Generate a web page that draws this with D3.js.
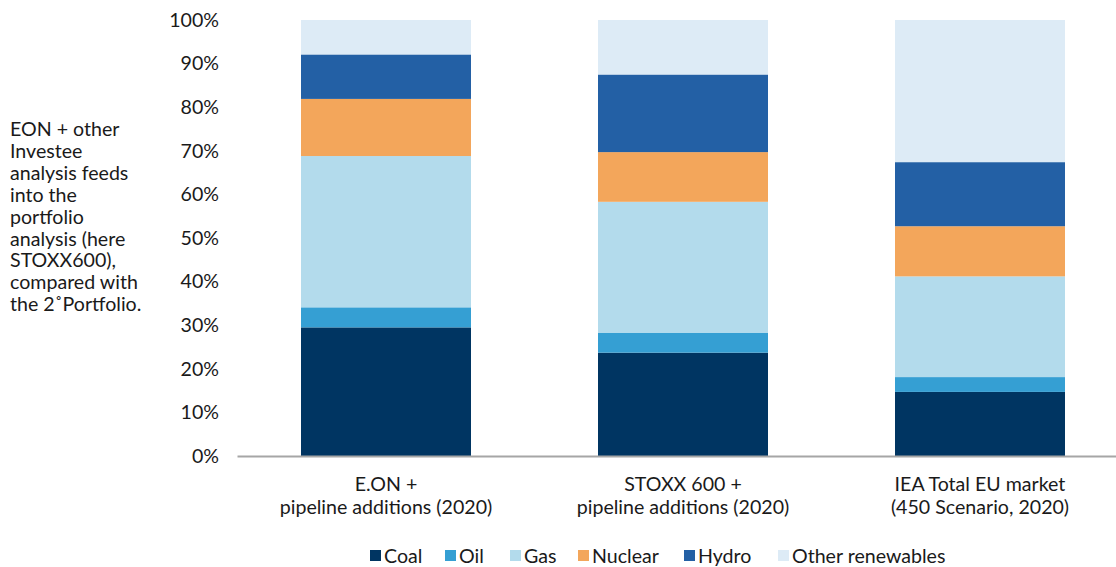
<!DOCTYPE html>
<html><head><meta charset="utf-8">
<script src="https://cdn.jsdelivr.net/npm/d3@7"></script>
<style>
html,body{margin:0;padding:0;background:#fff;}
svg{display:block;font-family:Lato, "Open Sans", sans-serif;}
</style></head>
<body><svg id="chart" width="1116" height="567"></svg>
<script>
const categories = [["E.ON +","pipeline additions (2020)"],["STOXX 600 +","pipeline additions (2020)"],["IEA Total EU market","(450 Scenario, 2020)"]];
const seriesNames = ["Coal","Oil","Gas","Nuclear","Hydro","Other renewables"];
const coal = [29.5, 23.7, 14.7];
const oil = [4.6, 4.6, 3.4];
const gas = [34.7, 30.0, 23.1];
const nuclear = [13.1, 11.4, 11.5];
const hydro = [10.2, 17.8, 14.7];
const otherRenew = [7.9, 12.5, 32.6];
const yTicks = [0,10,20,30,40,50,60,70,80,90,100];
const noteLines = ["EON + other","Investee","analysis feeds","into the","portfolio","analysis (here","STOXX600),","compared with","the 2˚Portfolio."];
const colors = ["#003562","#359fd3","#b3dbec","#f3a65b","#2360a5","#ddebf6"];

const svg = d3.select("#chart");
const seriesVals = [coal, oil, gas, nuclear, hydro, otherRenew];
const rows = categories.map((c,i)=>{const r={key:i}; seriesNames.forEach((s,j)=>r[s]=seriesVals[j][i]); return r;});
const stack = d3.stack().keys(seriesNames)(rows);

const x = d3.scaleBand().domain(d3.range(categories.length)).range([237.5,1128.5]).paddingInner(0.4276).paddingOuter(0.2138);
const y = d3.scaleLinear().domain([0,100]).range([456,20]);
const color = d3.scaleOrdinal().domain(seriesNames).range(colors);
const FS = 19.6;

// bars
svg.append("g").selectAll("g").data(stack).join("g").attr("fill",d=>color(d.key))
  .selectAll("rect").data(d=>d).join("rect")
  .attr("x",(d,i)=>x(i)).attr("width",x.bandwidth())
  .attr("y",d=>y(d[1])).attr("height",d=>y(d[0])-y(d[1]));

// y axis labels
const yAxis = d3.axisLeft(y).tickValues(yTicks).tickFormat(d=>d+"%").tickSize(0).tickPadding(0);
const gy = svg.append("g").attr("transform","translate(219,0)").call(yAxis);
gy.select(".domain").remove();
gy.selectAll("text").attr("font-size",FS).attr("fill","#1a1a1a").attr("font-family","Lato");

// baseline
svg.append("line").attr("x1",237.5).attr("x2",1116).attr("y1",y(0)+0.5).attr("y2",y(0)+0.5)
  .attr("stroke","#a6a6a6").attr("stroke-width",2);

// category labels
const gx = svg.append("g");
categories.forEach((lines,i)=>{
  const t = gx.append("text").attr("x",x(i)+x.bandwidth()/2).attr("y",491).attr("text-anchor","middle")
    .attr("font-size",FS).attr("fill","#1a1a1a");
  lines.forEach((l,k)=>t.append("tspan").attr("x",x(i)+x.bandwidth()/2).attr("dy",k===0?0:23).text(l));
});

// side note
const note = svg.append("text").attr("x",10).attr("y",136).attr("font-size",FS).attr("fill","#1a1a1a");
noteLines.forEach((l,k)=>note.append("tspan").attr("x",10).attr("dy",k===0?0:21.9).text(l));

// legend
const legendX = [370,445,510,578,684,778];
const lg = svg.append("g");
seriesNames.forEach((s,i)=>{
  lg.append("rect").attr("x",legendX[i]).attr("y",550).attr("width",11).attr("height",11).attr("fill",color(s));
  lg.append("text").attr("x",legendX[i]+14).attr("y",563).attr("font-size",FS).attr("fill","#1a1a1a").text(s);
});
</script></body></html>
